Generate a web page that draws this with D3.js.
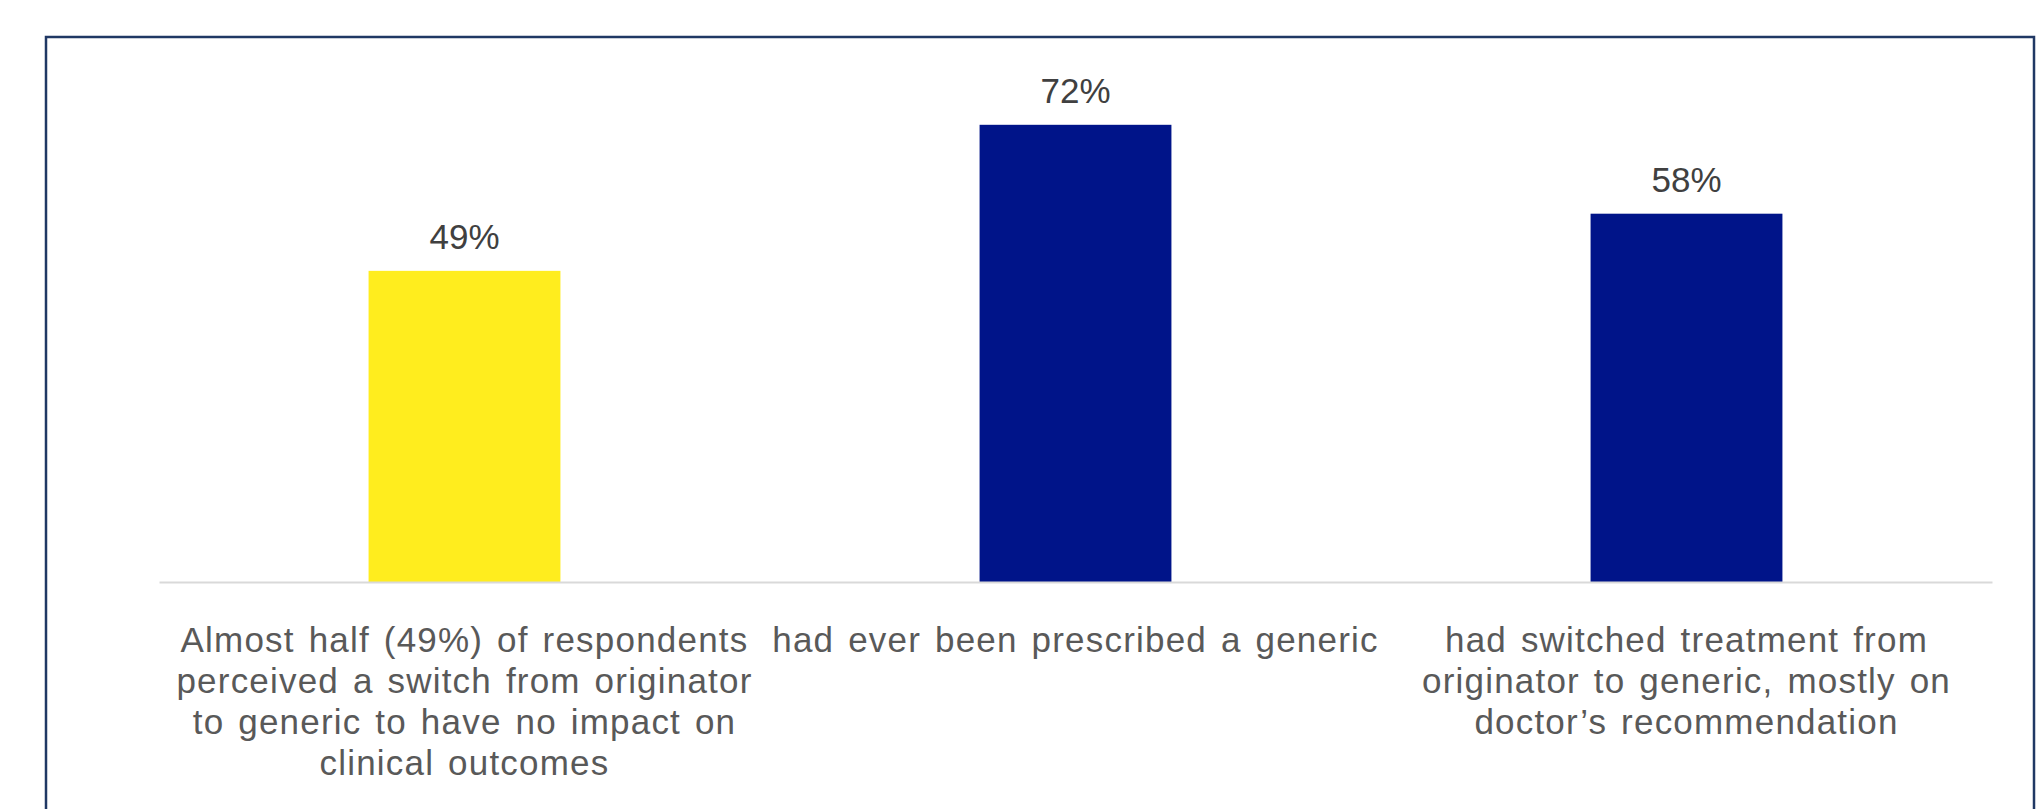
<!DOCTYPE html>
<html>
<head>
<meta charset="utf-8">
<script src="https://cdn.jsdelivr.net/npm/d3@7"></script>
<style>
  body { margin: 0; background: #fff; }
  svg text { font-family: "Liberation Sans", Arial, sans-serif; }
</style>
</head>
<body>
<div id="chart"></div>
<script>
var svgWidth = 2042;
var svgHeight = 809;

// data
var categories = ["c1", "c2", "c3"];
var values = [49, 72, 58];
var valueLabels = ["49%", "72%", "58%"];
var barColors = ["#FFED1E", "#001489", "#001489"];
var categoryLines = [
    ["Almost half (49%) of respondents", "perceived a switch from originator", "to generic to have no impact on", "clinical outcomes"],
    ["had ever been prescribed a generic"],
    ["had switched treatment from", "originator to generic, mostly on", "doctor\u2019s recommendation"]
];

var plot = { left: 159, right: 1992, top: 74, bottom: 582 };

var svg = d3.select("#chart")
    .append("svg")
    .attr("width", svgWidth)
    .attr("height", svgHeight);

// outer frame (bottom edge is off the picture)
svg.append("rect")
    .attr("x", 46)
    .attr("y", 37)
    .attr("width", 1988)
    .attr("height", 820)
    .attr("fill", "none")
    .attr("stroke", "#203864")
    .attr("stroke-width", 2.5);

var xScale = d3.scaleBand()
    .domain(categories)
    .range([plot.left, plot.right])
    .paddingInner(0.686)
    .paddingOuter(0.343);

var yScale = d3.scaleLinear()
    .domain([0, 80])
    .range([plot.bottom, plot.top]);

var chartGroup = svg.append("g");

chartGroup.selectAll(".bar")
    .data(values)
    .enter()
    .append("rect")
    .attr("class", "bar")
    .attr("x", (d, i) => xScale(categories[i]))
    .attr("y", d => yScale(d))
    .attr("width", xScale.bandwidth())
    .attr("height", d => yScale(0) - yScale(d))
    .attr("fill", (d, i) => barColors[i]);

// baseline
var bottomAxis = d3.axisBottom(xScale).tickSize(0).tickFormat("");
var axisG = chartGroup.append("g")
    .attr("transform", `translate(0, ${plot.bottom})`)
    .call(bottomAxis);
axisG.select(".domain").attr("stroke", "#D9D9D9").attr("stroke-width", 2);

// value labels
chartGroup.selectAll(".val")
    .data(values)
    .enter()
    .append("text")
    .attr("class", "val")
    .attr("x", (d, i) => xScale(categories[i]) + xScale.bandwidth() / 2)
    .attr("y", d => yScale(d) - 22)
    .attr("text-anchor", "middle")
    .attr("font-size", "35px")
    .attr("fill", "#404040")
    .text((d, i) => valueLabels[i]);

// category labels
var catG = chartGroup.selectAll(".cat")
    .data(categoryLines)
    .enter()
    .append("text")
    .attr("class", "cat")
    .attr("text-anchor", "middle")
    .attr("font-size", "35px")
    .attr("letter-spacing", "1.2px")
    .attr("word-spacing", "3px")
    .attr("fill", "#595959");

catG.selectAll("tspan")
    .data((d, i) => d.map(t => ({ t: t, i: i })))
    .enter()
    .append("tspan")
    .attr("x", d => xScale(categories[d.i]) + xScale.bandwidth() / 2)
    .attr("y", (d, j) => plot.bottom + 70 + j * 41)
    .text(d => d.t);
</script>
</body>
</html>
